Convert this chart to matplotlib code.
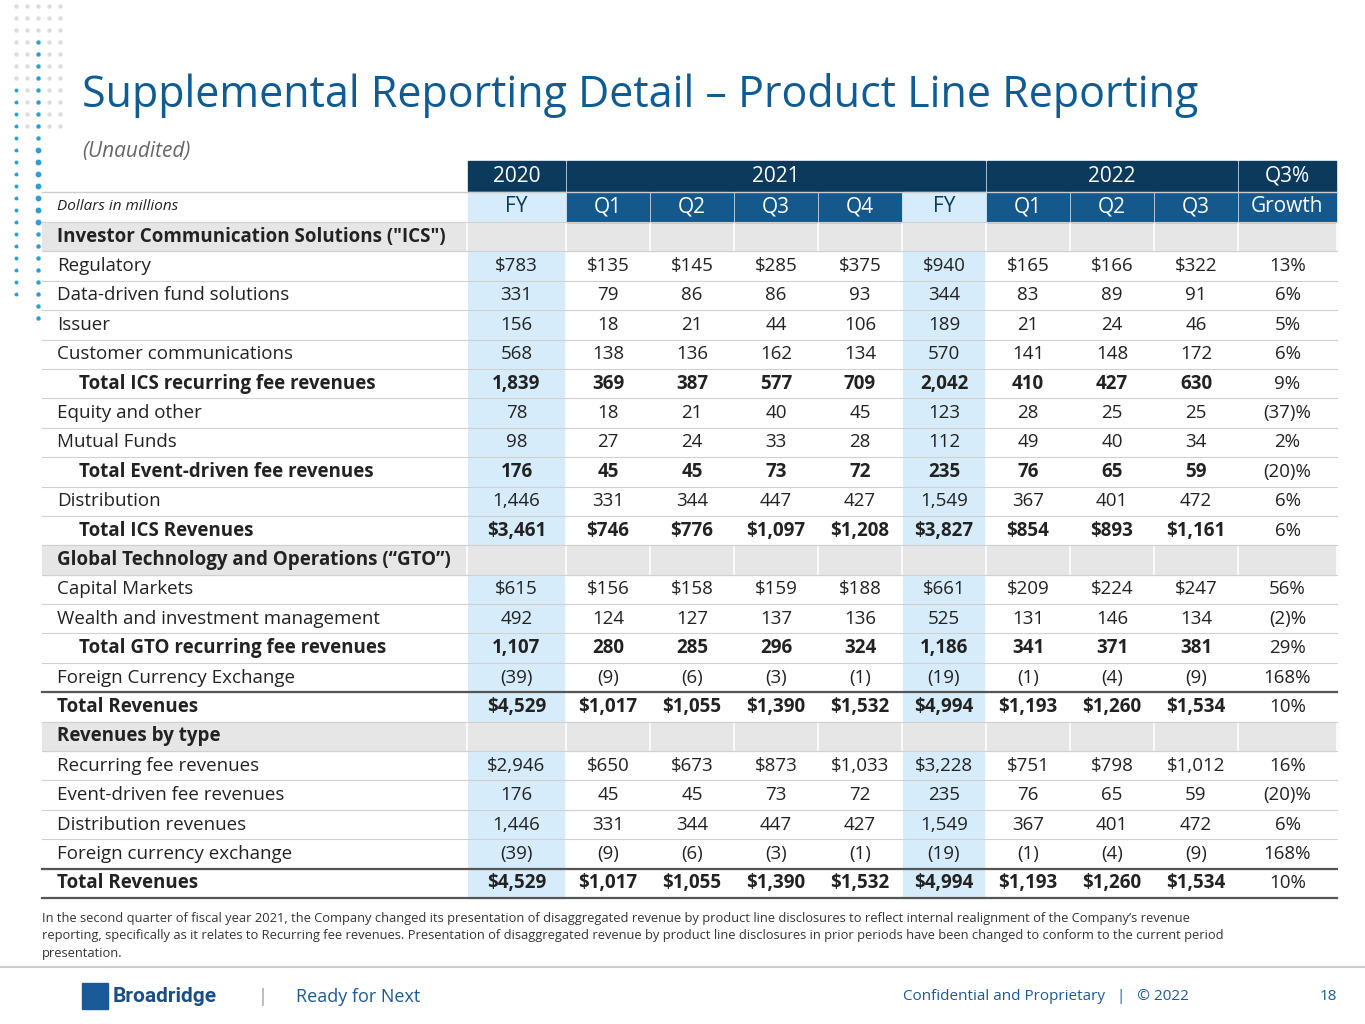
import matplotlib.pyplot as plt
from matplotlib.patches import Rectangle

plt.rcParams["font.family"] = ["Open Sans", "DejaVu Sans"]

NAVY = "#0b3a5d"
BLUE = "#14588c"
LIGHT = "#d7ecfa"
GRAY = "#e6e6e6"
TITLE = "#0f5b93"
TXT = "#222222"

col_heads = ["FY", "Q1", "Q2", "Q3", "Q4", "FY", "Q1", "Q2", "Q3", "Growth"]

# (label, kind, values)  kind: sec = section header, n = normal, t = indented total, b = bold total
rows = [
    ('Investor Communication Solutions ("ICS")', "sec", None),
    ("Regulatory", "n", ["$783", "$135", "$145", "$285", "$375", "$940", "$165", "$166", "$322", "13%"]),
    ("Data-driven fund solutions", "n", ["331", "79", "86", "86", "93", "344", "83", "89", "91", "6%"]),
    ("Issuer", "n", ["156", "18", "21", "44", "106", "189", "21", "24", "46", "5%"]),
    ("Customer communications", "n", ["568", "138", "136", "162", "134", "570", "141", "148", "172", "6%"]),
    ("Total ICS recurring fee revenues", "t", ["1,839", "369", "387", "577", "709", "2,042", "410", "427", "630", "9%"]),
    ("Equity and other", "n", ["78", "18", "21", "40", "45", "123", "28", "25", "25", "(37)%"]),
    ("Mutual Funds", "n", ["98", "27", "24", "33", "28", "112", "49", "40", "34", "2%"]),
    ("Total Event-driven fee revenues", "t", ["176", "45", "45", "73", "72", "235", "76", "65", "59", "(20)%"]),
    ("Distribution", "n", ["1,446", "331", "344", "447", "427", "1,549", "367", "401", "472", "6%"]),
    ("Total ICS Revenues", "t", ["$3,461", "$746", "$776", "$1,097", "$1,208", "$3,827", "$854", "$893", "$1,161", "6%"]),
    ("Global Technology and Operations (\u201cGTO\u201d)", "sec", None),
    ("Capital Markets", "n", ["$615", "$156", "$158", "$159", "$188", "$661", "$209", "$224", "$247", "56%"]),
    ("Wealth and investment management", "n", ["492", "124", "127", "137", "136", "525", "131", "146", "134", "(2)%"]),
    ("Total GTO recurring fee revenues", "t", ["1,107", "280", "285", "296", "324", "1,186", "341", "371", "381", "29%"]),
    ("Foreign Currency Exchange", "n", ["(39)", "(9)", "(6)", "(3)", "(1)", "(19)", "(1)", "(4)", "(9)", "168%"]),
    ("Total Revenues", "b", ["$4,529", "$1,017", "$1,055", "$1,390", "$1,532", "$4,994", "$1,193", "$1,260", "$1,534", "10%"]),
    ("Revenues by type", "sec", None),
    ("Recurring fee revenues", "n", ["$2,946", "$650", "$673", "$873", "$1,033", "$3,228", "$751", "$798", "$1,012", "16%"]),
    ("Event-driven fee revenues", "n", ["176", "45", "45", "73", "72", "235", "76", "65", "59", "(20)%"]),
    ("Distribution revenues", "n", ["1,446", "331", "344", "447", "427", "1,549", "367", "401", "472", "6%"]),
    ("Foreign currency exchange", "n", ["(39)", "(9)", "(6)", "(3)", "(1)", "(19)", "(1)", "(4)", "(9)", "168%"]),
    ("Total Revenues", "b", ["$4,529", "$1,017", "$1,055", "$1,390", "$1,532", "$4,994", "$1,193", "$1,260", "$1,534", "10%"]),
]

fig = plt.figure(figsize=(13.65, 10.24), dpi=100)
ax = fig.add_axes([0, 0, 1, 1])
ax.set_xlim(0, 1365)
ax.set_ylim(1024, 0)
ax.axis("off")

# decorative dots at top left
for j, cx in enumerate([5, 16, 27, 38, 49, 60]):
    for cy in range(6, 340, 12):
        if j == 3 and 40 < cy < 330:
            ax.plot(cx, cy, "o", ms=3.2 if 140 < cy < 230 else 2.2, color="#2a9fd6")
        elif j == 1 and 80 < cy < 300:
            ax.plot(cx, cy, "o", ms=1.8, color="#2a9fd6")
        elif cy < 130 and j != 0:
            ax.plot(cx, cy, "o", ms=2.2, color="#dddddd")

ax.text(82, 95, "Supplemental Reporting Detail \u2013 Product Line Reporting",
        fontsize=31, color=TITLE, va="center")
ax.text(82, 151, "(Unaudited)", fontsize=15, color="#666666", style="italic", va="center")

edges = [467, 566, 650, 734, 818, 902, 986, 1070, 1154, 1238, 1337]
left = 42
y0, hh = 161, 30.5
top_body = y0 + 2 * hh
rh = (898 - top_body) / len(rows)
fy_cols = (0, 5)

# header row 1
groups = [(0, 1, "2020"), (1, 6, "2021"), (6, 9, "2022"), (9, 10, "Q3%")]
for a, b, lab in groups:
    ax.add_patch(Rectangle((edges[a] + 1, y0), edges[b] - edges[a] - 2, hh - 1, color=NAVY))
    ax.text((edges[a] + edges[b]) / 2, y0 + hh / 2, lab, color="white", fontsize=15,
            ha="center", va="center")
# header row 2
yh = y0 + hh
ax.text(57, yh + hh / 2, "Dollars in millions", fontsize=11, style="italic", color=TXT, va="center")
for i, lab in enumerate(col_heads):
    fc = LIGHT if i in fy_cols else BLUE
    ax.add_patch(Rectangle((edges[i] + 1, yh), edges[i + 1] - edges[i] - 2, hh, color=fc))
    ax.text((edges[i] + edges[i + 1]) / 2, yh + hh / 2, lab, fontsize=15,
            color=NAVY if i in fy_cols else "white", ha="center", va="center")
ax.plot([left, 1337], [yh, yh], color="#cccccc", lw=1)

for r, (label, kind, vals) in enumerate(rows):
    yt = top_body + r * rh
    yc = yt + rh / 2
    if kind == "sec":
        ax.add_patch(Rectangle((left, yt), 1337 - left, rh, color=GRAY, zorder=0))
        ax.text(57, yc, label, fontsize=13.5, weight="bold", color=TXT, va="center")
    else:
        for i in fy_cols:
            ax.add_patch(Rectangle((edges[i] + 1, yt), edges[i + 1] - edges[i] - 2, rh,
                                   color=LIGHT, zorder=0))
        bold = kind in ("t", "b")
        ax.text(79 if kind == "t" else 57, yc, label, fontsize=13.5,
                weight="bold" if bold else "normal", color=TXT, va="center")
        for i, v in enumerate(vals):
            ax.text((edges[i] + edges[i + 1]) / 2, yc, v, fontsize=13.5, ha="center",
                    va="center", color=TXT,
                    weight="bold" if bold and i < 9 else "normal")
    # row separators
    ax.plot([left, 1337], [yt, yt], color="#d0d0d0", lw=0.8, zorder=1)
    if kind == "b":
        ax.plot([left, 1337], [yt, yt], color="#555555", lw=1.6, zorder=2)
ax.plot([left, 1337], [898, 898], color="#555555", lw=1.6)
# column separators (white)
for e in edges:
    ax.plot([e, e], [top_body, 898], color="white", lw=1.2, zorder=0.5)

note = ("In the second quarter of fiscal year 2021, the Company changed its presentation of disaggregated revenue by product line disclosures to reflect internal realignment of the Company\u2019s revenue\n"
        "reporting, specifically as it relates to Recurring fee revenues. Presentation of disaggregated revenue by product line disclosures in prior periods have been changed to conform to the current period\n"
        "presentation.")
ax.text(42, 912, note, fontsize=9.3, color="#333333", va="top", linespacing=1.45)

ax.plot([0, 1365], [967, 967], color="#cccccc", lw=1.5)
ax.add_patch(Rectangle((82, 983), 26, 26, color="#1a5a96"))
ax.text(113, 997, "Broadridge", fontsize=15, weight="bold", color="#1a4f86", va="center",
        family=["Roboto", "DejaVu Sans"])
ax.text(258, 997, "|", fontsize=13, color="#999999", va="center")
ax.text(296, 997, "Ready for Next", fontsize=13, color="#1a5a96", va="center")
ax.text(1189, 997, "Confidential and Proprietary   |   \u00a9 2022", fontsize=11, color="#1a5a96",
        va="center", ha="right")
ax.text(1337, 997, "18", fontsize=11, color="#1a5a96", va="center", ha="right")

fig.savefig("out.png", dpi=100)
